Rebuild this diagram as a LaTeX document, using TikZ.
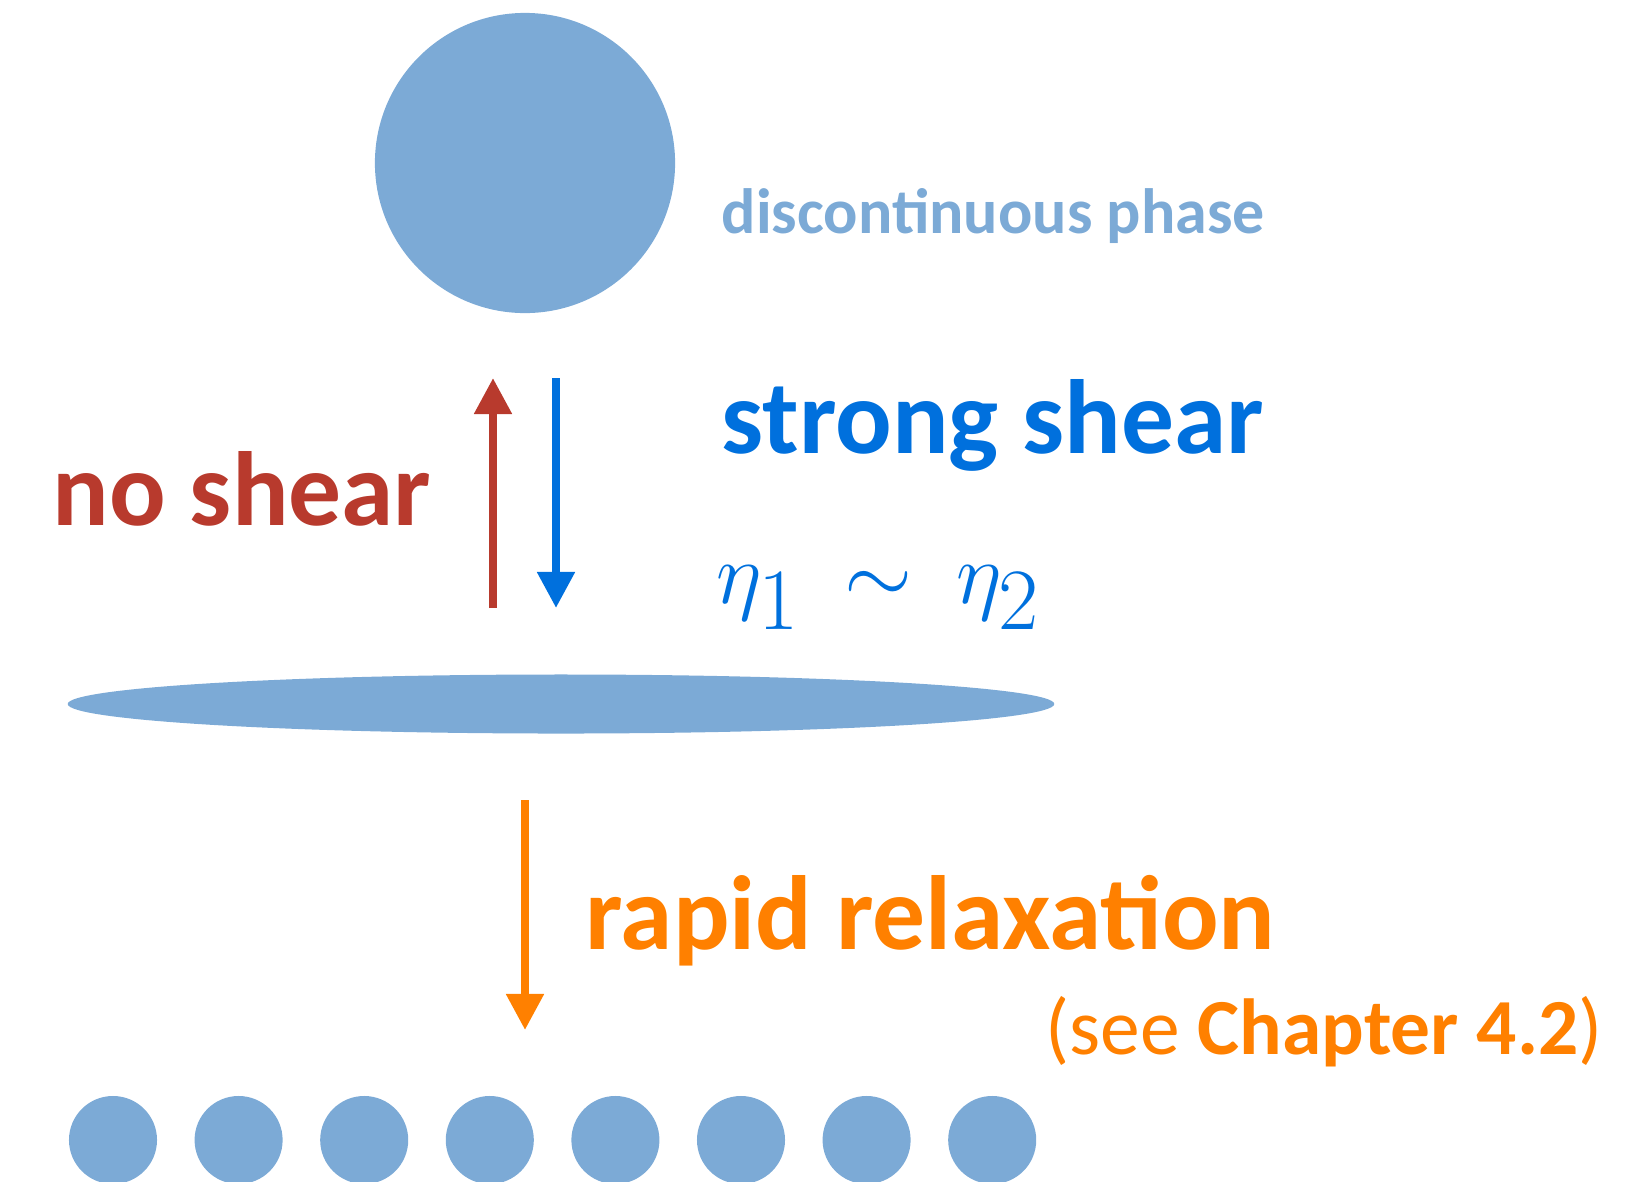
\documentclass[tikz,border=0pt]{standalone}
\usepackage{fontspec}
\setmainfont{Carlito}
\usetikzlibrary{arrows.meta,positioning,shapes.geometric}
\definecolor{dropblue}{RGB}{124,170,214}
\definecolor{shearblue}{RGB}{0,112,221}
\definecolor{noshearred}{RGB}{184,58,45}
\definecolor{relaxorange}{RGB}{255,128,0}

\begin{document}
\begin{tikzpicture}[x=0.01cm, y=-0.01cm,
    drop/.style={fill=dropblue, draw=none, inner sep=0pt},
    flow/.style={line width=0.08cm, -{Triangle[width=0.36cm, length=0.36cm]}},
    words/.style={anchor=base west, inner sep=0pt, font=\bfseries\fontsize{30}{36}\selectfont}]
    \useasboundingbox (0,0) rectangle (1645,1181);

    % Drops
    \node[drop, circle, minimum size=3cm] (big) at (525,163) {};
    \node[drop, ellipse, minimum width=9.86cm, minimum height=0.59cm] (flat) at (561,704) {};
    \foreach \i in {0,...,7}
        \node[drop, circle, minimum size=0.88cm] (small\i) at ({113+125.6*\i},1140) {};

    % Labels
    \node[words, dropblue, font=\bfseries\fontsize{18.2}{22}\selectfont] (phase) at (721,233) {discontinuous phase};
    \node[words, shearblue] (strong) at (721,453) {strong shear};
    \node[words, noshearred] (noshear) at (52,525) {no shear};
    \node[anchor=base west, inner sep=0pt, shearblue, font=\fontsize{37}{44}\selectfont] (eta) at (716,603) {$\eta_1 \mkern4mu\sim\mkern4mu \eta_2$};
    \node[words, relaxorange] (relax) at (585,949) {rapid relaxation};
    \node[anchor=base west, inner sep=0pt, relaxorange, font=\fontsize{22.6}{27}\selectfont] (see) at (1045,1054) {(see \textbf{Chapter 4.2})};

    % Arrows
    \coordinate (red0) at (493,608);
    \coordinate (red1) at (493,378);
    \coordinate (blue0) at (556,378);
    \coordinate (blue1) at (556,608);
    \coordinate (orange0) at (525,800);
    \coordinate (orange1) at (525,1030);
    \draw[flow, noshearred] (red0) -- (red1);
    \draw[flow, shearblue] (blue0) -- (blue1);
    \draw[flow, relaxorange] (orange0) -- (orange1);
\end{tikzpicture}
\end{document}
